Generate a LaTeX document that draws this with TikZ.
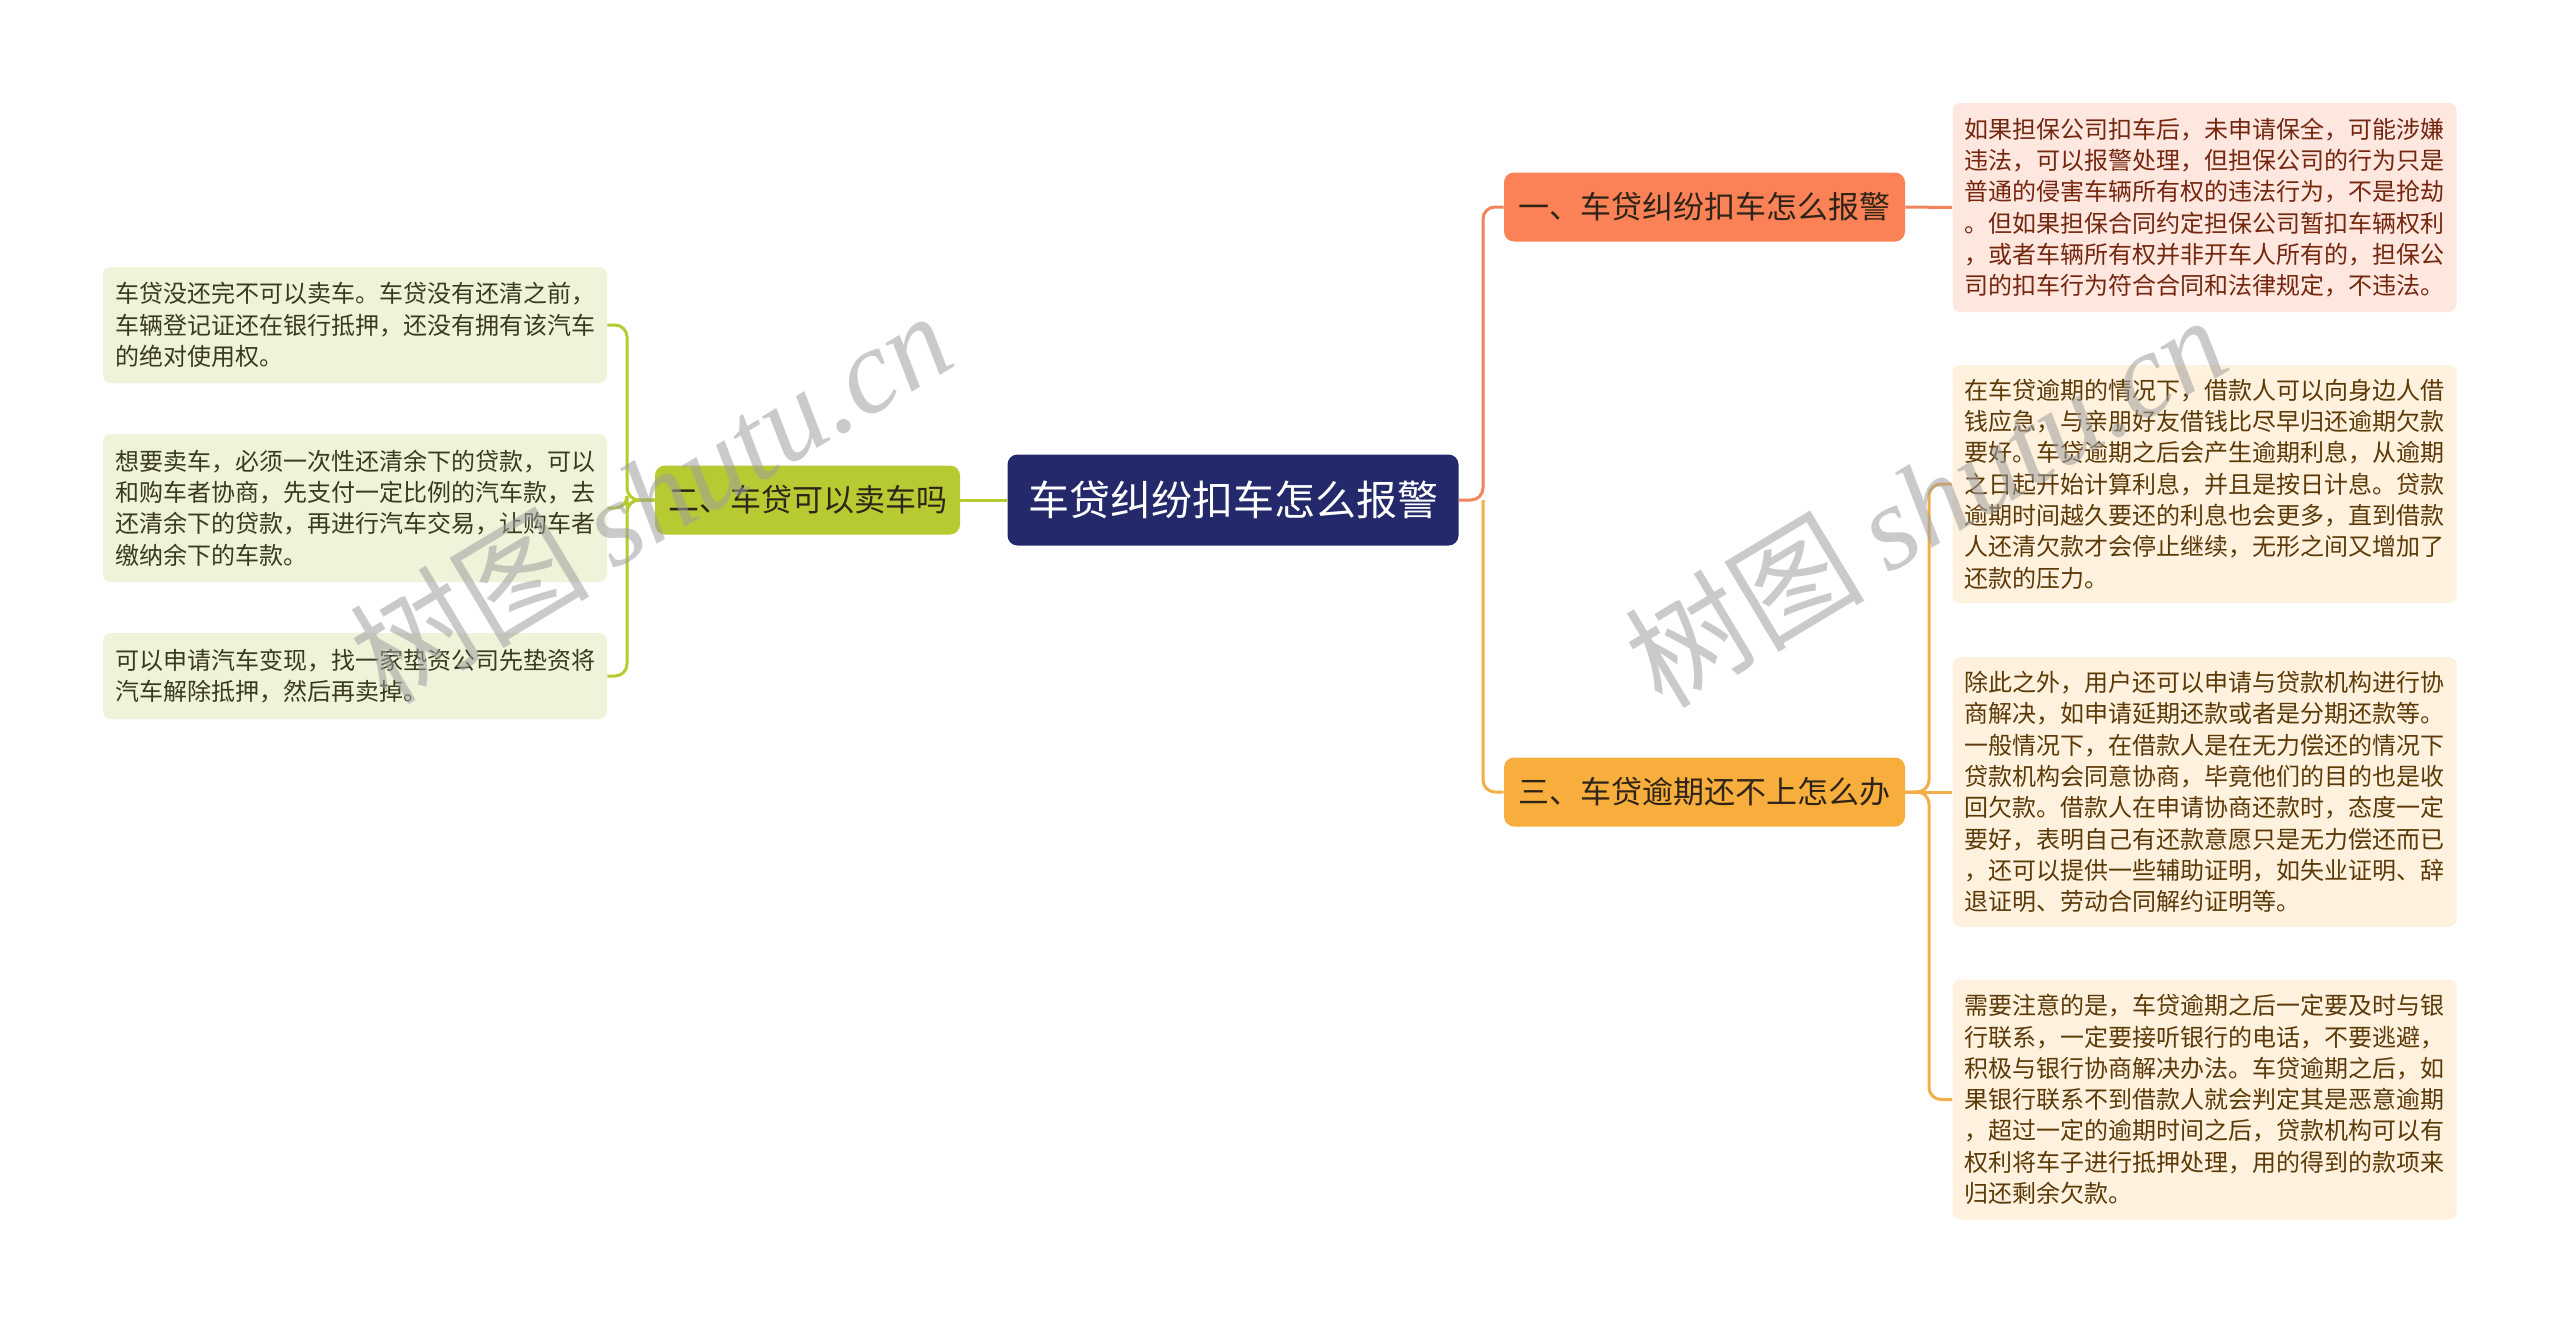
\documentclass[tikz,border=0pt]{standalone}
\usepackage{fontspec}
\setmainfont{Noto Sans CJK SC}
\newfontfamily\wmlatin{Liberation Serif}
\definecolor{rootfill}{HTML}{23296A}
\definecolor{gfill}{HTML}{B7CA31}
\definecolor{gleaf}{HTML}{EFF3D9}
\definecolor{gtext}{HTML}{3A3A1E}
\definecolor{ofill}{HTML}{FA8256}
\definecolor{oleaf}{HTML}{FDE7DF}
\definecolor{otext}{HTML}{74260F}
\definecolor{oline}{HTML}{F0845C}
\definecolor{yfill}{HTML}{F8AE3C}
\definecolor{yleaf}{HTML}{FEF1DD}
\definecolor{ytext}{HTML}{5C3A08}
\definecolor{yline}{HTML}{F2AE48}
\definecolor{headtext}{HTML}{2E2418}
\begin{document}
\begin{tikzpicture}[x=0.5pt,y=-0.5pt,
  box/.style={rounded corners=4pt, inner sep=0pt, anchor=center},
  rootbox/.style={box, fill=rootfill, text=white, minimum width=225.5pt, minimum height=45.5pt, rounded corners=5pt, font=\fontsize{20.5}{24}\selectfont},
  headbox/.style={box, minimum width=200.5pt, minimum height=34.5pt, rounded corners=5pt, font=\fontsize{15.5}{18}\selectfont, text=headtext},
  leafbox/.style={box, inner xsep=6pt, inner ysep=0pt, text width=240pt, align=left, font=\fontsize{12}{15.65}\selectfont},
  gleafbox/.style={leafbox, fill=gleaf, text=gtext, minimum width=252pt},
  oleafbox/.style={leafbox, fill=oleaf, text=otext, minimum width=251.5pt},
  yleafbox/.style={leafbox, fill=yleaf, text=ytext, minimum width=251.5pt},
  gconn/.style={draw=gfill, line width=1.5pt, rounded corners=6pt},
  oconn/.style={draw=oline, line width=1.5pt, rounded corners=6pt},
  yconn/.style={draw=yline, line width=1.5pt, rounded corners=6pt},
  wm/.style={text=gray!75, text opacity=0.55, inner sep=0pt, rotate=31, anchor=center}
]
\useasboundingbox (0,0) rectangle (2560,1323);
\fill[white] (0,0) rectangle (2560,1323);

% main nodes
\node[rootbox] (root) at (1233,500) {车贷纠纷扣车怎么报警};
\node[headbox, fill=gfill, minimum width=152.5pt] (n2) at (807.5,500) {二、车贷可以卖车吗};
\node[headbox, fill=ofill] (n1) at (1704.5,207) {一、车贷纠纷扣车怎么报警};
\node[headbox, fill=yfill] (n3) at (1704.5,792) {三、车贷逾期还不上怎么办};

% right leaves
\node[oleafbox, minimum height=104.5pt] (R1) at (2204.5,207.5) {如果担保公司扣车后，未申请保全，可能涉嫌\\违法，可以报警处理，但担保公司的行为只是\\普通的侵害车辆所有权的违法行为，不是抢劫\\。但如果担保合同约定担保公司暂扣车辆权利\\，或者车辆所有权并非开车人所有的，担保公\\司的扣车行为符合合同和法律规定，不违法。};
\node[yleafbox, minimum height=119pt] (R2) at (2204.5,484) {在车贷逾期的情况下，借款人可以向身边人借\\钱应急，与亲朋好友借钱比尽早归还逾期欠款\\要好。车贷逾期之后会产生逾期利息，从逾期\\之日起开始计算利息，并且是按日计息。贷款\\逾期时间越久要还的利息也会更多，直到借款\\人还清欠款才会停止继续，无形之间又增加了\\还款的压力。};
\node[yleafbox, minimum height=135pt] (R3) at (2204.5,792) {除此之外，用户还可以申请与贷款机构进行协\\商解决，如申请延期还款或者是分期还款等。\\一般情况下，在借款人是在无力偿还的情况下\\贷款机构会同意协商，毕竟他们的目的也是收\\回欠款。借款人在申请协商还款时，态度一定\\要好，表明自己有还款意愿只是无力偿还而已\\，还可以提供一些辅助证明，如失业证明、辞\\退证明、劳动合同解约证明等。};
\node[yleafbox, minimum height=120pt] (R4) at (2204.5,1099.5) {需要注意的是，车贷逾期之后一定要及时与银\\行联系，一定要接听银行的电话，不要逃避，\\积极与银行协商解决办法。车贷逾期之后，如\\果银行联系不到借款人就会判定其是恶意逾期\\，超过一定的逾期时间之后，贷款机构可以有\\权利将车子进行抵押处理，用的得到的款项来\\归还剩余欠款。};

% left leaves
\node[gleafbox, minimum height=58pt] (L1) at (355,325) {车贷没还完不可以卖车。车贷没有还清之前，\\车辆登记证还在银行抵押，还没有拥有该汽车\\的绝对使用权。};
\node[gleafbox, minimum height=74pt] (L2) at (355,508) {想要卖车，必须一次性还清余下的贷款，可以\\和购车者协商，先支付一定比例的汽车款，去\\还清余下的贷款，再进行汽车交易，让购车者\\缴纳余下的车款。};
\node[gleafbox, minimum height=43pt] (L3) at (355,676) {可以申请汽车变现，找一家垫资公司先垫资将\\汽车解除抵押，然后再卖掉。};

% bus points
\coordinate (lbus) at (627,500);
\coordinate (rbus) at (1483,500);
\coordinate (r3bus) at (1929,792);

% connectors
\draw[gconn] (root.west) -- (n2.east);
\draw[gconn] (n2.west) -- (lbus) |- (L1.east);
\draw[gconn] (n2.west) -- (lbus) |- (L2.east);
\draw[gconn] (n2.west) -- (lbus) |- (L3.east);
\draw[oconn] (root.east) -- (rbus) |- (n1.west);
\draw[yconn] (rbus) |- (n3.west);
\draw[oconn] (n1.east) -- (R1.west);
\draw[yconn] (n3.east) -- (r3bus) |- (R2.west);
\draw[yconn] (n3.east) -- (R3.west);
\draw[yconn] (n3.east) -- (r3bus) |- (R4.west);

% watermarks
\node[wm] (wm1) at (650,496) {\fontsize{60}{64}\selectfont 树图\hspace{12pt}{\wmlatin\itshape shutu.cn}};
\node[wm] (wm2) at (1925,500) {\fontsize{60}{64}\selectfont 树图\hspace{12pt}{\wmlatin\itshape shutu.cn}};
\end{tikzpicture}
\end{document}
